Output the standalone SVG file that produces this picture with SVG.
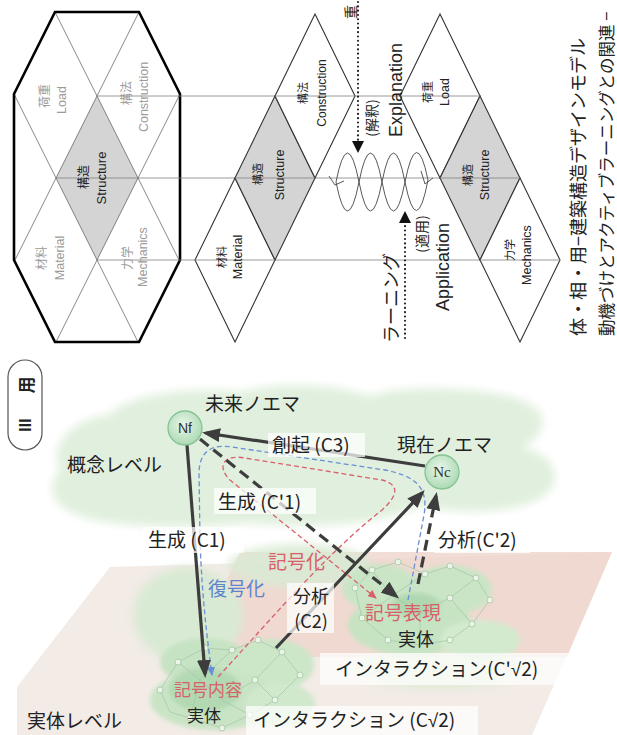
<svg xmlns="http://www.w3.org/2000/svg" width="617" height="735" viewBox="0 0 617 735">
<defs>
<style>
.t{font-family:"Liberation Sans","Noto Sans CJK JP",sans-serif}
.jp{font-family:"Noto Sans CJK JP","Noto Sans",sans-serif}
.sq{font-family:"Liberation Sans",sans-serif}
.ln{stroke:#555;stroke-width:.7;fill:none}
.hl{stroke:#808080;stroke-width:.8;fill:none}
.dm{stroke:#333;stroke-width:1.1;fill:#fff}
.dg{stroke:#333;stroke-width:1.1;fill:#d4d4d4}
.g{fill:#9c9c9c}
.k{fill:#222}
.lab{font-size:19px;fill:#222}
.sm{font-size:18px}
.xs{font-size:17px}
.red{fill:#d8606a}
.blue{fill:#5d84cd}
.box{fill:#fff;fill-opacity:.72}
.ar{stroke:#3d3d3d;stroke-width:3.2;fill:none}
.da{stroke-dasharray:11 6}
.dot{stroke:#111;stroke-width:2;stroke-dasharray:0.1 4.2;stroke-linecap:round;fill:none}
.wave{stroke:#444;stroke-width:.9;fill:none}
.net{stroke:#a3c6a6;stroke-width:.7;fill:none}
.nd{fill:#eaf4e7;stroke:#9cc39f;stroke-width:.7}
</style>
<marker id="ah" markerUnits="userSpaceOnUse" markerWidth="18" markerHeight="14" viewBox="0 0 18 14" refX="14" refY="7" orient="auto"><path d="M0,0 L18,7 L0,14 z" fill="#3d3d3d"/></marker>
<marker id="mr" markerUnits="userSpaceOnUse" markerWidth="9" markerHeight="8" viewBox="0 0 9 8" refX="8" refY="4" orient="auto"><path d="M0,0 L9,4 L0,8 z" fill="#d8606a"/></marker>
<marker id="mb" markerUnits="userSpaceOnUse" markerWidth="9" markerHeight="8" viewBox="0 0 9 8" refX="8" refY="4" orient="auto"><path d="M0,0 L9,4 L0,8 z" fill="#6a8fd4"/></marker>
<filter id="blur" x="-20%" y="-20%" width="140%" height="140%"><feGaussianBlur stdDeviation="4"/></filter>
<filter id="blur2" x="-20%" y="-20%" width="140%" height="140%"><feGaussianBlur stdDeviation="2"/></filter>
<radialGradient id="ng" cx="45%" cy="40%" r="65%"><stop offset="0" stop-color="#e8f6ea"/><stop offset="1" stop-color="#a8d8b0"/></radialGradient>
</defs>

<!-- ===== Top: rotated structure model ===== -->
<g id="hex-model">
  <polygon points="55,12 139,12 180,94 180,260 139,342 55,342 14,260 14,94" fill="#fff" stroke="none"/>
  <polygon points="97,96 138,178 97,260 56,178" fill="#d4d4d4"/>
  <line class="ln" x1="55" y1="12" x2="180" y2="262"/>
  <line class="ln" x1="139" y1="12" x2="14" y2="262"/>
  <line class="ln" x1="14" y1="94" x2="138" y2="342"/>
  <line class="ln" x1="180" y1="94" x2="56" y2="342"/>
  <polygon points="55,12 139,12 180,94 180,260 139,342 55,342 14,260 14,94" fill="none" stroke="#000" stroke-width="2.6" stroke-linejoin="miter"/>
</g>
<g id="guide-lines">
  <line class="hl" x1="97" y1="96" x2="480" y2="96"/>
  <line class="hl" x1="56" y1="178" x2="440" y2="178"/>
  <line class="hl" x1="97" y1="260" x2="480" y2="260"/>
</g>
<g id="hex-labels">
  <text class="t g" font-size="12" transform="translate(45,96) rotate(-90)" text-anchor="middle" dominant-baseline="central">荷重</text>
  <text class="t g" font-size="12.5" transform="translate(62,100) rotate(-90)" text-anchor="middle" dominant-baseline="central">Load</text>
  <text class="t g" font-size="12" transform="translate(127,93) rotate(-90)" text-anchor="middle" dominant-baseline="central">構法</text>
  <text class="t g" font-size="12.5" transform="translate(144,97) rotate(-90)" text-anchor="middle" dominant-baseline="central">Construction</text>
  <text class="t k" font-size="12" transform="translate(84,177) rotate(-90)" text-anchor="middle" dominant-baseline="central">構造</text>
  <text class="t k" font-size="13" transform="translate(101,178) rotate(-90)" text-anchor="middle" dominant-baseline="central">Structure</text>
  <text class="t g" font-size="12" transform="translate(42,258) rotate(-90)" text-anchor="middle" dominant-baseline="central">材料</text>
  <text class="t g" font-size="12.5" transform="translate(60,258) rotate(-90)" text-anchor="middle" dominant-baseline="central">Material</text>
  <text class="t g" font-size="12" transform="translate(128,258) rotate(-90)" text-anchor="middle" dominant-baseline="central">力学</text>
  <text class="t g" font-size="12.5" transform="translate(143,257) rotate(-90)" text-anchor="middle" dominant-baseline="central">Mechanics</text>
</g>

<g id="mid-model">
  <polygon class="dm" points="195,260 235,178 275,260 235,342"/>
  <polygon class="dg" points="235,178 275,96 315,178 275,260"/>
  <polygon class="dm" points="275,96 315,14 355,96 315,178"/>
  <line class="hl" x1="195" y1="260" x2="275" y2="260"/>
  <line class="hl" x1="235" y1="178" x2="315" y2="178"/>
  <line class="hl" x1="275" y1="96" x2="355" y2="96"/>
  <text class="t k" font-size="11" transform="translate(222,257) rotate(-90)" text-anchor="middle" dominant-baseline="central">材料</text>
  <text class="t k" font-size="12.5" transform="translate(238,257) rotate(-90)" text-anchor="middle" dominant-baseline="central">Material</text>
  <text class="t k" font-size="11" transform="translate(258,174) rotate(-90)" text-anchor="middle" dominant-baseline="central">構造</text>
  <text class="t k" font-size="12.5" transform="translate(280,175) rotate(-90)" text-anchor="middle" dominant-baseline="central">Structure</text>
  <text class="t k" font-size="11" transform="translate(303,93) rotate(-90)" text-anchor="middle" dominant-baseline="central">構法</text>
  <text class="t k" font-size="12" transform="translate(322,93) rotate(-90)" text-anchor="middle" dominant-baseline="central">Construction</text>
</g>

<g id="right-model">
  <polygon class="dm" points="400,96 440,14 480,96 440,178"/>
  <polygon class="dg" points="440,178 480,96 520,178 480,260"/>
  <polygon class="dm" points="480,260 520,178 560,260 520,342"/>
  <line class="hl" x1="400" y1="96" x2="480" y2="96"/>
  <line class="hl" x1="440" y1="178" x2="520" y2="178"/>
  <line class="hl" x1="480" y1="260" x2="560" y2="260"/>
  <text class="t k" font-size="11" transform="translate(428,92) rotate(-90)" text-anchor="middle" dominant-baseline="central">荷重</text>
  <text class="t k" font-size="12.5" transform="translate(445,92) rotate(-90)" text-anchor="middle" dominant-baseline="central">Load</text>
  <text class="t k" font-size="11" transform="translate(468,175) rotate(-90)" text-anchor="middle" dominant-baseline="central">構造</text>
  <text class="t k" font-size="12.5" transform="translate(485,175) rotate(-90)" text-anchor="middle" dominant-baseline="central">Structure</text>
  <text class="t k" font-size="11" transform="translate(510,250) rotate(-90)" text-anchor="middle" dominant-baseline="central">力学</text>
  <text class="t k" font-size="12.5" transform="translate(527,255) rotate(-90)" text-anchor="middle" dominant-baseline="central">Mechanics</text>
</g>

<g id="learning-cycle">
  <line class="dot" x1="358" y1="2" x2="358" y2="140"/>
  <polygon points="352,141 364,141 358,153" fill="#111"/>
  <line class="dot" x1="405" y1="338" x2="405" y2="224"/>
  <polygon points="399,223 411,223 405,211" fill="#111"/>
  <path class="wave" d="M336,182 Q347.5,124 359,182 T382,182 T405,182 T428,180"/>
  <path class="wave" d="M336,182 Q347.5,240 359,182 T382,182 T405,182 T428,180"/>
  <polyline class="wave" points="329,176 335,185 344,181"/>
  <polyline class="wave" points="421,171 425,184 433,178"/>
  <text class="jp k" font-size="14" transform="translate(350,12) rotate(-90)" text-anchor="middle" dominant-baseline="central">重</text>
  <text class="jp k" font-size="14" transform="translate(371,118) rotate(-90)" text-anchor="middle" dominant-baseline="central">(解釈)</text>
  <text class="t k" font-size="18" transform="translate(396,90) rotate(-90)" text-anchor="middle" dominant-baseline="central">Explanation</text>
  <text class="jp k" font-size="14" transform="translate(421,234) rotate(-90)" text-anchor="middle" dominant-baseline="central">(適用)</text>
  <text class="t k" font-size="18" transform="translate(443,267) rotate(-90)" text-anchor="middle" dominant-baseline="central">Application</text>
  <text class="jp k" font-size="18" transform="translate(390,253) rotate(-90)" text-anchor="end" dominant-baseline="central">ラーニング</text>
</g>

<g id="title">
  <text class="jp k" font-size="18" transform="translate(577,336) rotate(-90)" text-anchor="start" dominant-baseline="central">体・相・用−建築構造デザインモデル</text>
  <text class="jp k" font-size="16.5" transform="translate(606,336) rotate(-90)" text-anchor="start" dominant-baseline="central">動機づけとアクティブラーニングとの関連 −</text>
</g>

<!-- ===== Bottom: noema model ===== -->
<g id="tab">
  <rect x="8" y="360" width="34" height="90" rx="17" fill="#fff" stroke="#555" stroke-width="1.2"/>
  <text class="jp k" font-size="17" font-weight="bold" transform="translate(25,385) rotate(-90)" text-anchor="middle" dominant-baseline="central">用</text>
  <text class="t k" font-size="16" font-weight="bold" transform="translate(25,425) rotate(-90)" text-anchor="middle" dominant-baseline="central">III</text>
</g>

<g id="entity-plane">
  <polygon points="110,567 612,552 532,735 17,735 17,687" fill="#f2ebe6"/>
  <polygon points="240,552 612,552 567,657 190,657" fill="#efd4cc" fill-opacity=".8"/>
</g>

<g id="concept-cloud">
  <path filter="url(#blur)" fill="#e1f0de" d="M60,470 C48,445 70,420 110,414 C130,394 190,386 240,392 C290,380 340,386 370,396 C400,384 500,386 530,404 C552,416 542,440 522,447 C562,456 566,490 532,502 C502,516 442,512 420,506 C380,526 300,529 250,523 C200,529 120,529 80,516 C50,506 46,486 60,470 Z"/>
</g>

<g id="entity-clouds">
  <g filter="url(#blur)">
    <ellipse cx="188" cy="615" rx="55" ry="48" fill="#d9ead4"/>
    <ellipse cx="300" cy="566" rx="72" ry="22" fill="#d9ead4" fill-opacity=".9"/>
    <ellipse cx="440" cy="668" rx="85" ry="20" fill="#d9eccf" fill-opacity=".8"/>
  </g>
  <g filter="url(#blur2)">
    <ellipse cx="205" cy="662" rx="45" ry="24" fill="#c6e3c3"/>
    <ellipse cx="272" cy="665" rx="42" ry="26" fill="#cce6c8"/>
    <ellipse cx="215" cy="700" rx="65" ry="30" fill="#c9e4c5"/>
    <ellipse cx="280" cy="705" rx="35" ry="22" fill="#d0e8cc"/>
    <ellipse cx="205" cy="690" rx="36" ry="22" fill="#b3d9b2"/>
    <ellipse cx="380" cy="588" rx="38" ry="24" fill="#cae5c6"/>
    <ellipse cx="450" cy="590" rx="42" ry="25" fill="#cae5c6"/>
    <ellipse cx="410" cy="625" rx="62" ry="30" fill="#c6e3c2"/>
    <ellipse cx="480" cy="640" rx="40" ry="20" fill="#d3eacf"/>
    <ellipse cx="416" cy="605" rx="24" ry="12" fill="#b0d8b0"/>
  </g>
  <g id="network">
    <path class="net" d="M160,690 L178,662 L205,648 L232,650 L258,640 L282,652 L300,675 L275,700 L250,715 L222,728 L190,718 L170,712 L160,690 M178,662 L200,680 L232,650 M200,680 L222,700 L250,715 M222,700 L255,680 L282,652 M255,680 L275,700 M190,718 L200,680"/>
    <circle class="nd" cx="160" cy="690" r="3"/><circle class="nd" cx="178" cy="662" r="3"/><circle class="nd" cx="205" cy="648" r="3"/><circle class="nd" cx="232" cy="650" r="3"/><circle class="nd" cx="258" cy="640" r="3"/><circle class="nd" cx="282" cy="652" r="3"/><circle class="nd" cx="300" cy="675" r="3"/><circle class="nd" cx="275" cy="700" r="3"/><circle class="nd" cx="250" cy="715" r="3"/><circle class="nd" cx="222" cy="728" r="3"/><circle class="nd" cx="190" cy="718" r="3"/><circle class="nd" cx="255" cy="680" r="3"/>
    <path class="net" d="M355,588 L372,570 L398,562 L425,574 L450,566 L476,578 L490,600 L472,624 L450,640 L420,645 L388,640 L362,618 L355,588 M372,570 L392,596 L425,574 M392,596 L420,612 L450,598 L476,578 M420,612 L420,645 M362,618 L392,596 M450,598 L472,624"/>
    <circle class="nd" cx="355" cy="588" r="3"/><circle class="nd" cx="372" cy="570" r="3"/><circle class="nd" cx="398" cy="562" r="3"/><circle class="nd" cx="425" cy="574" r="3"/><circle class="nd" cx="450" cy="566" r="3"/><circle class="nd" cx="476" cy="578" r="3"/><circle class="nd" cx="490" cy="600" r="3"/><circle class="nd" cx="472" cy="624" r="3"/><circle class="nd" cx="450" cy="640" r="3"/><circle class="nd" cx="388" cy="640" r="3"/><circle class="nd" cx="362" cy="618" r="3"/><circle class="nd" cx="450" cy="598" r="3"/>
  </g>
</g>

<g id="connectors">
  <path d="M408,600 L424,515 C429,486 414,476 385,470 L232,447 C210,444 200,452 199,472 L200,540 C202,600 208,645 212,675" fill="none" stroke="#6a8fd4" stroke-width="1.3" stroke-dasharray="5 3" marker-end="url(#mb)"/>
  <path d="M218,677 C275,615 325,555 382,510 C400,494 398,484 382,480 L245,458 C224,454 216,466 230,480 L376,598" fill="none" stroke="#d8606a" stroke-width="1.3" stroke-dasharray="5 3" marker-end="url(#mr)"/>
  <line class="ar" x1="425" y1="466" x2="206" y2="433" marker-end="url(#ah)"/>
  <line class="ar" x1="187" y1="445" x2="205" y2="674" marker-end="url(#ah)"/>
  <line class="ar da" x1="200" y1="439" x2="396" y2="596" marker-end="url(#ah)"/>
  <line class="ar" x1="276" y1="648" x2="422" y2="493" marker-end="url(#ah)"/>
  <line class="ar da" x1="418" y1="584" x2="436" y2="496" marker-end="url(#ah)"/>
</g>

<g id="label-boxes">
  <rect class="box" x="268" y="433" width="97" height="24"/>
  <rect class="box" x="214" y="488" width="102" height="26"/>
  <rect class="box" x="143" y="527" width="101" height="26"/>
  <rect class="box" x="287" y="583" width="47" height="50"/>
  <rect class="box" x="434" y="526" width="96" height="27"/>
  <rect class="box" x="320" y="653" width="250" height="32"/>
  <rect class="box" x="246" y="706" width="232" height="29"/>
</g>

<g id="node-Nf">
  <circle cx="185" cy="428" r="17" fill="url(#ng)" stroke="#86c393" stroke-width="1.3"/>
  <text class="t" x="185" y="433" font-size="14" fill="#333" text-anchor="middle">Nf</text>
</g>
<g id="node-Nc">
  <circle cx="442" cy="472" r="17" fill="url(#ng)" stroke="#86c393" stroke-width="1.3"/>
  <text x="442" y="477" font-family="Liberation Serif, serif" font-size="15" fill="#333" text-anchor="middle">Nc</text>
</g>

<g id="labels" class="jp">
  <text class="lab" x="205" y="411">未来ノエマ</text>
  <text class="lab" x="397" y="452">現在ノエマ</text>
  <text class="lab" x="67" y="472">概念レベル</text>
  <text class="lab" x="272" y="452">創起 (C3)</text>
  <text class="lab" x="218" y="509">生成 (C'1)</text>
  <text class="lab" x="148" y="547">生成 (C1)</text>
  <text class="lab blue" x="208" y="596">復号化</text>
  <text class="lab red" x="268" y="569">記号化</text>
  <text class="lab sm" x="311" y="603" text-anchor="middle">分析</text>
  <text class="lab sm" x="311" y="628" text-anchor="middle">(C2)</text>
  <text class="lab" x="438" y="547">分析(C'2)</text>
  <text class="lab red" x="365" y="620">記号表現</text>
  <text class="lab sm" x="398" y="646">実体</text>
  <text class="lab" x="335" y="676">インタラクション(C'<tspan class="sq">√</tspan>2)</text>
  <text class="lab red xs" x="174" y="696">記号内容</text>
  <text class="lab xs" x="187" y="722">実体</text>
  <text class="lab" x="253" y="727">インタラクション (C<tspan class="sq">√</tspan>2)</text>
  <text class="lab" x="27" y="728">実体レベル</text>
</g>
</svg>
